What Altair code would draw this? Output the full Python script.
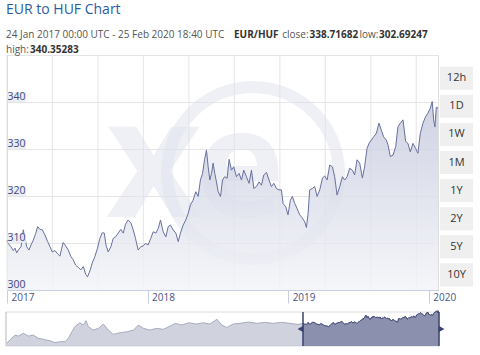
import altair as alt
import pandas as pd

# ---------------- data ----------------
# EUR/HUF, main window (decimal year, rate)
years = [
    2017.000, 2017.009, 2017.028, 2017.045, 2017.057, 2017.069, 2017.085, 2017.100, 2017.116, 2017.128,
    2017.140, 2017.156, 2017.171, 2017.187, 2017.204, 2017.218, 2017.235, 2017.251, 2017.270, 2017.289,
    2017.306, 2017.322, 2017.341, 2017.360, 2017.377, 2017.389, 2017.400, 2017.417, 2017.436, 2017.453,
    2017.471, 2017.488, 2017.507, 2017.526, 2017.543, 2017.559, 2017.573, 2017.590, 2017.606, 2017.625,
    2017.644, 2017.661, 2017.678, 2017.692, 2017.704, 2017.720, 2017.739, 2017.756, 2017.772, 2017.791,
    2017.810, 2017.827, 2017.843, 2017.862, 2017.881, 2017.898, 2017.914, 2017.933, 2017.952, 2017.969,
    2017.985, 2018.004, 2018.023, 2018.040, 2018.059, 2018.076, 2018.092, 2018.111, 2018.130, 2018.147,
    2018.163, 2018.182, 2018.201, 2018.218, 2018.234, 2018.253, 2018.272, 2018.289, 2018.305, 2018.324,
    2018.343, 2018.360, 2018.376, 2018.391, 2018.405, 2018.419, 2018.431, 2018.443, 2018.455, 2018.466,
    2018.478, 2018.490, 2018.502, 2018.519, 2018.533, 2018.549, 2018.566, 2018.580, 2018.597, 2018.613,
    2018.632, 2018.651, 2018.668, 2018.684, 2018.703, 2018.722, 2018.739, 2018.756, 2018.774, 2018.793,
    2018.810, 2018.827, 2018.846, 2018.864, 2018.881, 2018.898, 2018.917, 2018.935, 2018.952, 2018.964,
    2018.983, 2018.999, 2019.016, 2019.030, 2019.047, 2019.063, 2019.082, 2019.101, 2019.118, 2019.130,
    2019.142, 2019.153, 2019.172, 2019.189, 2019.206, 2019.225, 2019.244, 2019.260, 2019.277, 2019.296,
    2019.315, 2019.331, 2019.348, 2019.367, 2019.386, 2019.402, 2019.419, 2019.438, 2019.457, 2019.473,
    2019.490, 2019.509, 2019.528, 2019.544, 2019.561, 2019.575, 2019.592, 2019.608, 2019.627, 2019.646,
    2019.663, 2019.679, 2019.698, 2019.710, 2019.727, 2019.746, 2019.765, 2019.781, 2019.798, 2019.817,
    2019.836, 2019.852, 2019.869, 2019.888, 2019.907, 2019.923, 2019.940, 2019.959, 2019.978, 2019.994,
    2020.011, 2020.025, 2020.035, 2020.044, 2020.054, 2020.066,
]
rates = [
    310.6, 309.9, 309.2, 308.4, 308.9, 307.9, 308.7, 309.2, 312.8, 311.0,
    309.2, 308.5, 309.6, 310.6, 312.0, 313.5, 312.9, 312.8, 311.7, 310.3,
    309.2, 308.1, 308.4, 307.7, 307.2, 308.9, 310.1, 309.4, 308.5, 307.2,
    306.4, 305.3, 304.8, 304.3, 305.0, 303.4, 302.8, 304.1, 305.7, 307.1,
    308.9, 311.0, 312.2, 312.1, 309.6, 308.1, 309.2, 311.0, 311.3, 312.1,
    312.9, 312.1, 314.0, 314.9, 314.3, 312.8, 311.0, 308.5, 309.2, 309.4,
    309.9, 309.6, 311.0, 312.4, 312.1, 313.1, 314.9, 312.4, 311.3, 313.5,
    313.8, 312.8, 312.1, 310.3, 312.1, 313.8, 314.9, 316.3, 318.1, 319.1,
    320.9, 319.9, 323.4, 324.8, 327.7, 329.8, 326.2, 323.4, 324.8, 327.0,
    324.8, 323.0, 320.9, 319.9, 323.4, 324.1, 323.8, 327.8, 325.5, 326.2,
    324.1, 324.8, 323.4, 325.5, 324.1, 322.7, 325.5, 321.6, 322.0, 323.0,
    322.3, 324.5, 325.0, 323.4, 322.0, 322.7, 321.6, 321.3, 321.3, 318.4,
    317.7, 316.0, 319.1, 319.9, 318.4, 317.4, 316.0, 315.3, 314.5, 313.3,
    316.3, 321.3, 321.6, 322.0, 319.9, 321.3, 323.8, 324.3, 323.4, 326.6,
    326.2, 324.1, 320.2, 322.0, 324.1, 323.4, 324.1, 325.9, 325.5, 324.5,
    327.7, 327.0, 323.8, 326.2, 330.1, 331.2, 331.9, 332.6, 333.3, 335.5,
    334.0, 332.6, 331.9, 330.9, 328.4, 328.7, 330.5, 334.7, 335.5, 336.2,
    331.6, 331.2, 329.4, 331.2, 330.1, 329.1, 333.3, 335.5, 336.9, 337.6,
    338.7, 340.1, 336.2, 334.7, 338.9, 338.7,
]

# longer history shown only in the navigator
nav_hist_years = [
    2010.32, 2010.39, 2010.51, 2010.58, 2010.70, 2010.81, 2010.92, 2011.03, 2011.15, 2011.30,
    2011.41, 2011.52, 2011.64, 2011.71, 2011.79, 2011.86, 2011.97, 2012.05, 2012.11, 2012.16,
    2012.27, 2012.39, 2012.50, 2012.61, 2012.72, 2012.88, 2013.03, 2013.18, 2013.29, 2013.40,
    2013.55, 2013.70, 2013.85, 2014.00, 2014.12, 2014.27, 2014.42, 2014.60, 2014.75, 2014.90,
    2015.06, 2015.17, 2015.28, 2015.43, 2015.58, 2015.77, 2015.96, 2016.14, 2016.33, 2016.52,
    2016.71, 2016.89,
]
nav_hist_rates = [
    264.0, 272.0, 283.5, 281.0, 287.5, 281.0, 283.5, 276.0, 273.5, 270.0,
    265.7, 268.0, 268.0, 276.0, 291.0, 303.0, 312.0, 306.7, 316.7, 303.0,
    295.0, 299.0, 309.0, 295.0, 285.0, 289.0, 291.0, 295.0, 306.7, 299.0,
    295.0, 299.0, 296.7, 304.0, 310.6, 306.7, 312.0, 309.0, 312.0, 309.0,
    320.0, 306.7, 301.0, 309.0, 310.6, 313.7, 310.6, 313.0, 310.6, 313.0,
    310.6, 308.0,
]

y_ticks = [300, 310, 320, 330, 340]
y_grid = [300, 310, 320, 330, 340, 350]
x_year_ticks = [2017, 2018, 2019, 2020]
grid_years = [2017.000, 2017.323, 2017.647, 2017.970, 2018.294, 2018.617,
              2018.941, 2019.264, 2019.588, 2019.911]
buttons = ["12h", "1D", "1W", "1M", "1Y", "2Y", "5Y", "10Y"]

title_text = "EUR to HUF Chart"
range_text = "24 Jan 2017 00:00 UTC - 25 Feb 2020 18:40 UTC"
pair_text = "EUR/HUF"
close_val = "338.71682"
low_val = "302.69247"
high_val = "340.35283"

# ---------------- layout ----------------
W, H = 431, 235
FONT = "Open Sans"
X0, X1 = 2017.0, 2020.066

main_df = pd.DataFrame({"year": years, "rate": rates})
nav_df = pd.DataFrame({"year": nav_hist_years + years, "rate": nav_hist_rates + rates})
one = pd.DataFrame({"k": [0]})

xs = alt.Scale(domain=[X0, X1], nice=False, zero=False)
ys = alt.Scale(domain=[300, 350], nice=False, zero=False)
x_axis = alt.Axis(values=x_year_ticks, format="d", title=None, grid=False,
                  tickSize=13, tickColor="#c8cee3", domainColor="#c8cee3",
                  labelAlign="left", labelBaseline="middle", labelPadding=-5.5,
                  labelOffset=4, labelFlush=False, labelOverlap=False,
                  labelFont=FONT, labelFontSize=10, labelColor="#4a5483")
y_axis = alt.Axis(values=y_grid, title=None, grid=True, gridColor="#e5e5e5",
                  labels=False, ticks=False, domain=True, domainColor="#ccd1e4")


def X(field):
    return alt.X(field, scale=xs, axis=x_axis)


def Y(field):
    return alt.Y(field, scale=ys, axis=y_axis)


vgrid = alt.Chart(pd.DataFrame({"g": grid_years})).mark_rule(
    color="#e5e5e5", strokeWidth=1
).encode(x=X("g:Q"), y=alt.value(0), y2=alt.value(H))

wm_color = "#dfe2ee"
wm_op = 0.5
wm_x = alt.Chart(one).mark_text(
    text="x", font=FONT, fontWeight="bold", fontSize=165, color=wm_color, opacity=wm_op,
    align="left", baseline="alphabetic"
).encode(x=alt.value(99), y=alt.value(162))
wm_e = alt.Chart(one).mark_text(
    text="e", font=FONT, fontWeight="bold", fontSize=150, color=wm_color, opacity=wm_op,
    align="left", baseline="alphabetic"
).encode(x=alt.value(189), y=alt.value(162))
wm_ring = alt.Chart(one).mark_arc(
    theta=0, theta2=6.2832, radius=92, radius2=80, color=wm_color, opacity=wm_op
).encode(x=alt.value(246), y=alt.value(118))

area = alt.Chart(main_df).mark_area(
    fillOpacity=0.8,
    color=alt.Gradient(
        gradient="linear",
        stops=[alt.GradientStop(color="#c3c7dc", offset=0),
               alt.GradientStop(color="#f3f4f8", offset=1)],
        x1=1, x2=1, y1=0, y2=1,
    ),
).encode(x=X("year:Q"), y=Y("rate:Q"), y2=alt.Y2Datum(300))

line = alt.Chart(main_df).mark_line(color="#68709e", strokeWidth=1).encode(
    x=X("year:Q"), y=Y("rate:Q")
)

ylab_df = pd.DataFrame({"v": y_ticks})
ylab_bg = alt.Chart(ylab_df).transform_calculate(top="datum.v + 2.05").mark_rect(
    color="#e9ebf4", opacity=0.9
).encode(x=alt.value(0.5), x2=alt.value(19), y=Y("v:Q"), y2="top:Q")
ylab_txt = alt.Chart(ylab_df).mark_text(
    font=FONT, fontSize=10.5, color="#3f4a7c", align="center", baseline="middle", dy=-5
).encode(x=alt.value(9.5), y=Y("v:Q"), text=alt.Text("v:Q", format="d"))

main = alt.layer(vgrid, wm_x, wm_e, wm_ring, area, line, ylab_bg, ylab_txt)

# range buttons on the right
btn_df = pd.DataFrame({"b": buttons})
btn_scale = alt.Scale(domain=buttons, range=[11.7, 231.4], paddingInner=0.18, paddingOuter=0)
btn_rect = alt.Chart(btn_df).mark_rect(color="#efefef").encode(
    y=alt.Y("b:N", scale=btn_scale, axis=None),
    x=alt.value(433), x2=alt.value(466),
)
btn_txt = alt.Chart(btn_df).mark_text(
    font=FONT, fontSize=11, color="#333333", align="center", baseline="middle"
).encode(
    y=alt.Y("b:N", scale=btn_scale, axis=None, bandPosition=0.5),
    x=alt.value(449.5), text="b:N",
)
btn_layer = alt.layer(btn_rect, btn_txt)

# navigator
NAV_LO, NAV_HI = 258, 337
nxs = alt.Scale(domain=[nav_hist_years[0] - 0.015, X1], range=[-1, 432], nice=False, zero=False)
nys = alt.Scale(domain=[NAV_LO, NAV_HI], range=[291, 257], nice=False, zero=False)
NX = alt.X("year:Q", scale=nxs, axis=None)
NY = alt.Y("rate:Q", scale=nys, axis=None)

nav_box = alt.Chart(one).mark_rect(fill="white", stroke="#dcdcdc", strokeWidth=1).encode(
    x=alt.value(-1), x2=alt.value(432), y=alt.value(257), y2=alt.value(291)
)
nav_gray = alt.Chart(nav_df).mark_area(
    color="#bcc0d0", line={"color": "#a7acbf", "strokeWidth": 1}
).encode(x=NX, y=NY, y2=alt.Y2Datum(NAV_LO))
nav_dark = alt.Chart(nav_df).transform_filter(alt.datum.year >= X0).mark_area(
    color="#6c7399", line={"color": "#3b4271", "strokeWidth": 1}
).encode(x=NX, y=NY, y2=alt.Y2Datum(NAV_LO))
sel_df = pd.DataFrame({"year": [X0, X1]})
sel_rules = alt.Chart(sel_df).mark_rule(color="#3b4271", strokeWidth=1.5).encode(
    x=NX, y=alt.value(257), y2=alt.value(291)
)
handle_l = alt.Chart(sel_df).transform_filter(alt.datum.year == X0).mark_point(
    shape="triangle-left", filled=True, size=45, color="#3b4271", opacity=1, xOffset=-2.5
).encode(x=NX, y=alt.value(274))
handle_r = alt.Chart(sel_df).transform_filter(alt.datum.year == X1).mark_point(
    shape="triangle-right", filled=True, size=45, color="#3b4271", opacity=1, xOffset=2.5
).encode(x=NX, y=alt.value(274))
nav_left = alt.Chart(one).mark_rule(color="#c8c8c8", strokeWidth=1).encode(
    x=alt.value(-1), y=alt.value(257), y2=alt.value(291)
)
nav_layer = alt.layer(nav_box, nav_gray, nav_dark, sel_rules, handle_l, handle_r, nav_left)


# header texts
def txt(s, x, y, size=10, bold=False, color="#555555"):
    return alt.Chart(one).mark_text(
        text=s, font=FONT, fontSize=size, fontWeight="bold" if bold else "normal",
        color=color, align="left", baseline="middle"
    ).encode(x=alt.value(x), y=alt.value(y))


header = alt.layer(
    txt(title_text, -1, -45, size=14, color="#2b5ba6"),
    txt(range_text, -1, -20),
    txt(pair_text, 227, -20, bold=True, color="#333333"),
    txt("close:", 275.2, -20),
    txt(close_val, 302.5, -20, bold=True, color="#333333"),
    txt("low:", 352.5, -20),
    txt(low_val, 372, -20, bold=True, color="#333333"),
    txt("high:", -1, -5),
    txt(high_val, 23, -5, bold=True, color="#333333"),
)

chart = alt.layer(main, btn_layer, nav_layer, header).resolve_scale(
    x="independent", y="independent"
).properties(
    width=W, height=H,
    autosize=alt.AutoSizeParams(type="none"),
    padding={"left": 7, "top": 55, "right": 42, "bottom": 65},
).configure_view(stroke=None).configure(background="white")

chart.save("out.html", embed_options={"renderer": "svg", "actions": False})
